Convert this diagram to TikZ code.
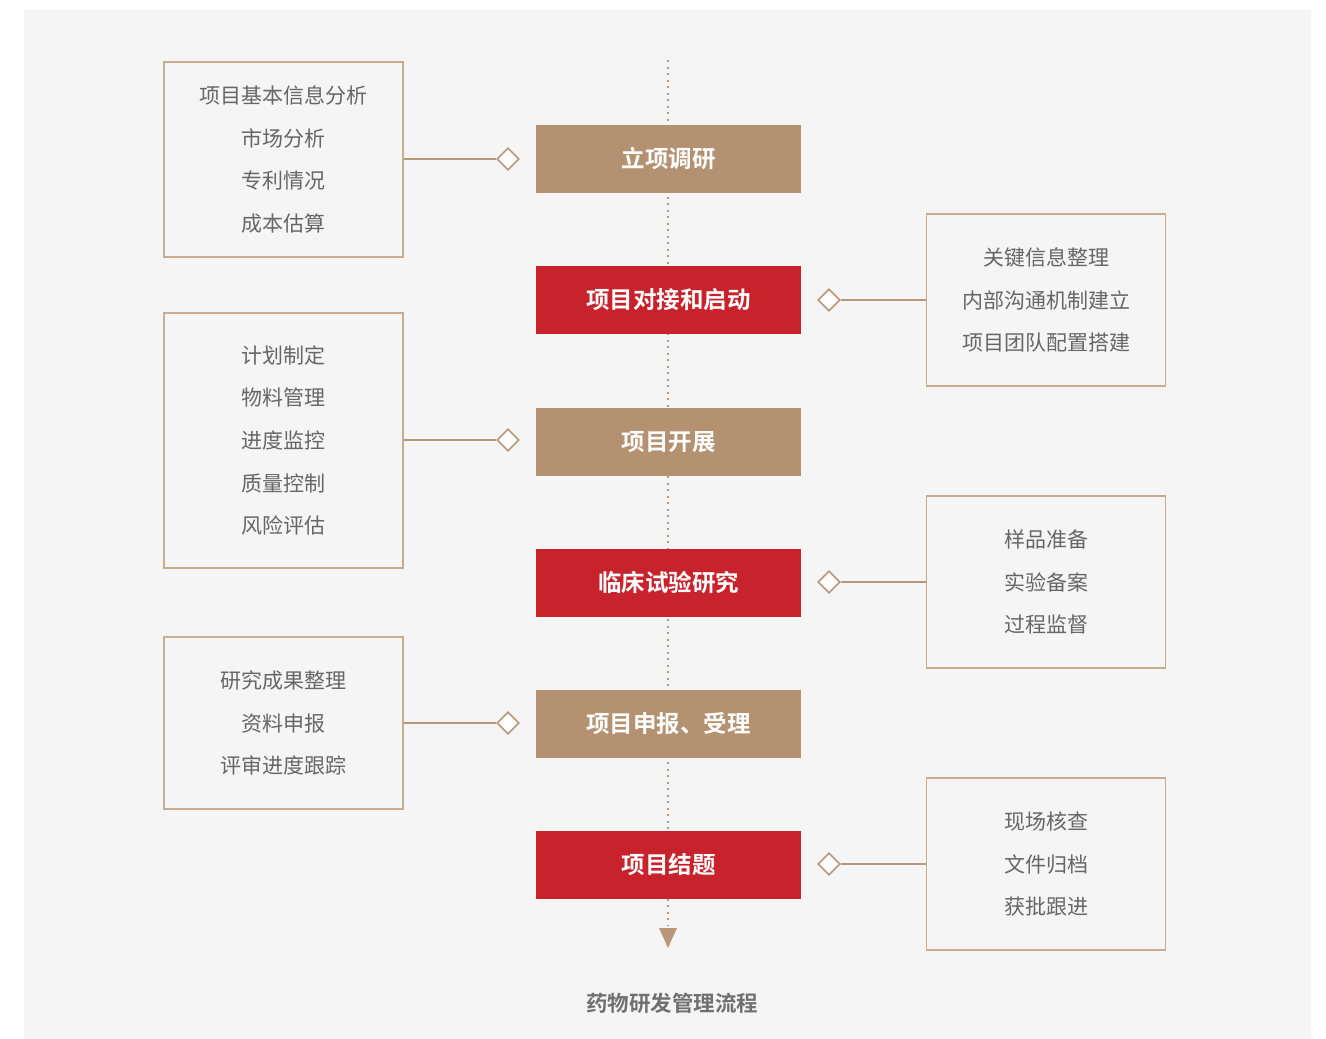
\documentclass[tikz,border=0pt]{standalone}
\usepackage{fontspec}
\setmainfont{Noto Sans CJK SC}
\newfontfamily\cjk{Noto Sans CJK SC}
\newfontfamily\cjkb{Noto Sans CJK SC Bold}
\usetikzlibrary{shapes.geometric,arrows.meta}
\definecolor{bgc}{HTML}{F5F5F5}
\definecolor{brownbox}{HTML}{B39171}
\definecolor{redbox}{HTML}{C8232C}
\definecolor{framec}{HTML}{C9AB8E}
\definecolor{linec}{HTML}{B8977A}
\definecolor{txt}{HTML}{666666}
\definecolor{ttl}{HTML}{707070}
\begin{document}
\begin{tikzpicture}[x=1pt,y=-1pt,
  stagebox/.style={rectangle,minimum width=265,minimum height=68,inner sep=0,
     text=white,font=\cjkb\fontsize{23.5}{26}\selectfont},
  brownst/.style={stagebox,fill=brownbox},
  redst/.style={stagebox,fill=redbox},
  sidebox/.style={rectangle,draw=framec,line width=1.5pt,fill=bgc,minimum width=239,
     inner sep=0,align=center,text=txt,font=\cjk\fontsize{21}{42.7}\selectfont},
  dia/.style={diamond,draw=linec,fill=white,line width=1.6pt,minimum width=22,minimum height=22,inner sep=0},
  link/.style={draw=linec,line width=1.5pt}
]
\useasboundingbox (0,0) rectangle (1326,1039);
\fill[white] (0,0) rectangle (1326,1039);
\fill[bgc] (24,10) rectangle (1311,1039);

% central dotted line
\coordinate (top) at (668,60);
\coordinate (bot) at (668,948);
\draw[linec,line width=2pt,dash pattern=on 2pt off 4.5pt] (top) -- (668,926);
\fill[linec] (659,928) -- (677,928) -- (bot) -- cycle;

% stages
\node[brownst] (s1) at (668.5,159) {立项调研};
\node[redst]   (s2) at (668.5,300) {项目对接和启动};
\node[brownst] (s3) at (668.5,442) {项目开展};
\node[redst]   (s4) at (668.5,583) {临床试验研究};
\node[brownst] (s5) at (668.5,724) {项目申报、受理};
\node[redst]   (s6) at (668.5,865) {项目结题};

% left boxes
\node[sidebox,minimum height=195] (l1) at (283.5,159.5) {项目基本信息分析\\市场分析\\专利情况\\成本估算};
\node[sidebox,minimum height=255] (l2) at (283.5,440.5) {计划制定\\物料管理\\进度监控\\质量控制\\风险评估};
\node[sidebox,minimum height=172] (l3) at (283.5,723) {研究成果整理\\资料申报\\评审进度跟踪};

% right boxes
\node[sidebox,minimum height=172] (r1) at (1046,300) {关键信息整理\\内部沟通机制建立\\项目团队配置搭建};
\node[sidebox,minimum height=172] (r2) at (1046,582) {样品准备\\实验备案\\过程监督};
\node[sidebox,minimum height=172] (r3) at (1046,864) {现场核查\\文件归档\\获批跟进};

% diamonds and links
\node[dia] (d1) at (508,159) {};
\node[dia] (d2) at (829,300) {};
\node[dia] (d3) at (508,440) {};
\node[dia] (d4) at (829,582) {};
\node[dia] (d5) at (508,723) {};
\node[dia] (d6) at (829,864) {};
\draw[link] (l1.east |- d1) -- (d1.west);
\draw[link] (l2.east |- d3) -- (d3.west);
\draw[link] (l3.east |- d5) -- (d5.west);
\draw[link] (d2.east) -- (r1.west |- d2);
\draw[link] (d4.east) -- (r2.west |- d4);
\draw[link] (d6.east) -- (r3.west |- d6);

% title
\node[text=ttl,font=\cjkb\fontsize{21.5}{24}\selectfont] (title) at (672,1003) {药物研发管理流程};
\end{tikzpicture}
\end{document}
